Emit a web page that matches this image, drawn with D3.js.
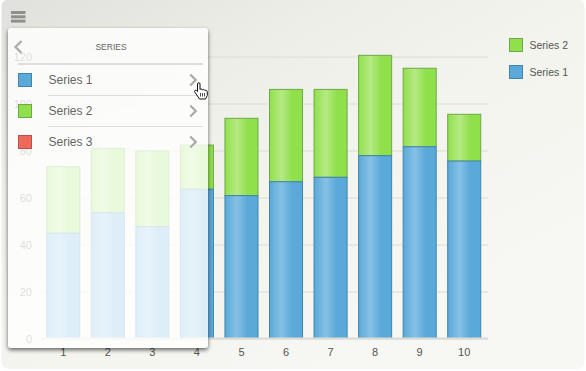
<!DOCTYPE html>
<html>
<head>
<meta charset="utf-8">
<script src="https://cdn.jsdelivr.net/npm/d3@7"></script>
<style>
html, body { margin: 0; padding: 0; background: #fff; }
svg { display: block; font-family: "Liberation Sans", sans-serif; }
</style>
</head>
<body>
<div id="chart"></div>
<script>
// DATA
const categories = ["1", "2", "3", "4", "5", "6", "7", "8", "9", "10"]
const series1 = [44.8, 53.5, 47.6, 63.5, 60.8, 66.7, 68.6, 77.8, 81.6, 75.5]
const series2 = [28.3, 27.4, 32.2, 18.8, 32.9, 39.3, 37.4, 42.7, 33.4, 19.9]
const yTicks = [0, 20, 40, 60, 80, 100, 120]
const legendNames = ["Series 2", "Series 1"]
const menuNames = ["Series 1", "Series 2", "Series 3"]
const menuTitle = "SERIES"

const width = 586
const height = 371
const margin = ({ top: 56.5, right: 99.5, bottom: 32.5, left: 41 })

const colors = {
    "Series 1": { fill: "#5aa9d9", light: "#86c1e6", stroke: "#3f84ad" },
    "Series 2": { fill: "#90e04c", light: "#b6ea84", stroke: "#6fa84b" },
    "Series 3": { fill: "#f0675c", light: "#f0675c", stroke: "#b5524a" },
}

const x = d3.scaleBand()
    .domain(categories)
    .range([margin.left, width - margin.right])
    .paddingInner(0.236)
    .paddingOuter(0.118)

const y = d3.scaleLinear()
    .domain([0, 120])
    .range([height - margin.bottom, margin.top])

const svg = d3.select("#chart")
    .append("svg")
    .attr("width", width)
    .attr("height", height)

const defs = svg.append("defs")

const bgGrad = defs.append("linearGradient")
    .attr("id", "bg")
    .attr("x1", 0).attr("y1", 0).attr("x2", 0.75).attr("y2", 0.85)
bgGrad.append("stop").attr("offset", "0%").attr("stop-color", "#e0e0dc")
bgGrad.append("stop").attr("offset", "35%").attr("stop-color", "#eeeee9")
bgGrad.append("stop").attr("offset", "62%").attr("stop-color", "#f3f4ee")
bgGrad.append("stop").attr("offset", "100%").attr("stop-color", "#f7f7f3")

for (const name of ["Series 1", "Series 2"]) {
    const grad = defs.append("linearGradient")
        .attr("id", name === "Series 1" ? "barBlue" : "barGreen")
        .attr("x1", 0).attr("x2", 1).attr("y1", 0).attr("y2", 0)
    grad.append("stop").attr("offset", "0%").attr("stop-color", colors[name].fill)
    grad.append("stop").attr("offset", "36%").attr("stop-color", colors[name].light)
    grad.append("stop").attr("offset", "68%").attr("stop-color", colors[name].fill)
    grad.append("stop").attr("offset", "100%").attr("stop-color", colors[name].fill)
}

// only the shadow outside the panel, the panel itself is see-through
const shadow = defs.append("filter")
    .attr("id", "panelShadow")
    .attr("x", "-10%").attr("y", "-10%").attr("width", "120%").attr("height", "120%")
shadow.append("feGaussianBlur")
    .attr("in", "SourceAlpha").attr("stdDeviation", 2).attr("result", "blur")
shadow.append("feOffset")
    .attr("in", "blur").attr("dy", 1.5).attr("result", "off")
shadow.append("feComposite")
    .attr("in", "off").attr("in2", "SourceAlpha").attr("operator", "out").attr("result", "outer")
shadow.append("feComponentTransfer")
    .attr("in", "outer")
    .append("feFuncA").attr("type", "linear").attr("slope", 0.6)

// background
svg.append("rect")
    .attr("x", 1.5).attr("y", -1)
    .attr("width", width - 3).attr("height", height - 1)
    .attr("rx", 8)
    .attr("fill", "url(#bg)")

// axes
svg.append("g")
    .attr("transform", `translate(${margin.left},0)`)
    .call(d3.axisLeft(y)
        .tickValues(yTicks)
        .tickSize(-(width - margin.left - margin.right + 1.5))
        .tickPadding(9))
    .call(g => g.select(".domain").remove())
    .call(g => g.selectAll(".tick line").attr("stroke", "#dcdcd6"))
    .call(g => g.selectAll("text")
        .attr("fill", "#555")
        .attr("font-size", 11)
        .attr("font-family", "inherit"))

const stack = categories.map((c, i) => ({ c, s1: series1[i], s2: series2[i] }))

svg.append("g")
    .selectAll("rect")
    .data(stack)
    .join("rect")
    .attr("x", d => x(d.c) + 0.5)
    .attr("width", x.bandwidth() - 1)
    .attr("y", d => y(d.s1 + d.s2))
    .attr("height", d => y(d.s1) - y(d.s1 + d.s2))
    .attr("fill", "url(#barGreen)")
    .attr("stroke", colors["Series 2"].stroke)

svg.append("g")
    .selectAll("rect")
    .data(stack)
    .join("rect")
    .attr("x", d => x(d.c) + 0.5)
    .attr("width", x.bandwidth() - 1)
    .attr("y", d => y(d.s1))
    .attr("height", d => y(0) - y(d.s1))
    .attr("fill", "url(#barBlue)")
    .attr("stroke", colors["Series 1"].stroke)

svg.append("g")
    .attr("transform", `translate(0,${height - margin.bottom})`)
    .call(d3.axisBottom(x).tickSize(0).tickPadding(10))
    .call(g => g.select(".domain")
        .attr("stroke", "#dcdcd6")
        .attr("stroke-width", 2)
        .attr("d", `M${margin.left},0H${width - margin.right + 1.5}`))
    .call(g => g.selectAll("text")
        .attr("fill", "#555")
        .attr("font-size", 11)
        .attr("font-family", "inherit"))

// legend
const legendRow = d3.scalePoint().domain(legendNames).range([45, 72])
const legend = svg.append("g")
    .selectAll("g")
    .data(legendNames)
    .join("g")
    .attr("transform", d => `translate(509.5,${legendRow(d)})`)
legend.append("rect")
    .attr("y", -6.5).attr("width", 13).attr("height", 13)
    .attr("fill", d => colors[d].fill)
    .attr("stroke", d => colors[d].stroke)
legend.append("text")
    .attr("x", 20).attr("dy", "0.35em")
    .attr("font-size", 10.5)
    .attr("fill", "#555")
    .text(d => d)

// menu icon
svg.append("g")
    .selectAll("rect")
    .data([0, 1, 2])
    .join("rect")
    .attr("x", 11).attr("y", d => 11 + d * 4.3)
    .attr("width", 14.5).attr("height", 3)
    .attr("fill", "#8f8f8b")

// popup panel over the chart
svg.append("rect")
    .attr("x", 8).attr("y", 28)
    .attr("width", 200).attr("height", 320)
    .attr("rx", 3)
    .attr("fill", "#fff")
    .attr("filter", "url(#panelShadow)")

svg.append("rect")
    .attr("x", 8).attr("y", 28)
    .attr("width", 200).attr("height", 320)
    .attr("rx", 3)
    .attr("fill", "#fff")
    .attr("fill-opacity", 0.8)

const chevron = (g, cx, cy, dir, size) => g.append("path")
    .attr("d", `M${cx - dir * size / 2},${cy - size}L${cx + dir * size / 2},${cy}L${cx - dir * size / 2},${cy + size}`)
    .attr("fill", "none")
    .attr("stroke", "#aaa")
    .attr("stroke-width", 2.2)

const panel = svg.append("g")
chevron(panel, 18.5, 47, -1, 6)
panel.append("text")
    .attr("x", 111).attr("y", 47.5)
    .attr("dy", "0.35em")
    .attr("text-anchor", "middle")
    .attr("font-size", 8.5)
    .attr("fill", "#666")
    .text(menuTitle)
panel.append("line")
    .attr("x1", 18).attr("x2", 203).attr("y1", 64).attr("y2", 64)
    .attr("stroke", "#dedede").attr("stroke-width", 2)

const menuRow = d3.scalePoint().domain(menuNames).range([80, 142])
menuNames.forEach((name, i) => {
    const row = panel.append("g").attr("transform", `translate(0,${menuRow(name)})`)
    row.append("rect")
        .attr("x", 18.5).attr("y", -6.5).attr("width", 13).attr("height", 13)
        .attr("fill", colors[name].fill)
        .attr("stroke", colors[name].stroke)
    row.append("text")
        .attr("x", 48.5).attr("dy", "0.35em")
        .attr("font-size", 12)
        .attr("fill", "#666")
        .text(name)
    chevron(row, 193, 0, 1, 5.5)
    if (i < menuNames.length - 1) {
        row.append("line")
            .attr("x1", 48).attr("x2", 203).attr("y1", 15.5).attr("y2", 15.5)
            .attr("stroke", "#ddd")
    }
})

// hand cursor
const hand = svg.append("g").attr("transform", "translate(194,82)")
hand.append("path")
    .attr("d", "M3.5,2C3.5,0.3 6,0.3 6,2V7.5C6.5,6.8 8.2,6.8 8.5,8C9,7.3 10.6,7.4 11,8.6C11.5,8 13.3,8.3 13.3,9.8V13.5L11.5,17H5.5L0.6,9.8C0,8.6 1.6,7.6 2.6,8.6L3.5,9.6Z")
    .attr("fill", "#fff")
    .attr("stroke", "#111")
    .attr("stroke-width", 1)
hand.append("path")
    .attr("d", "M6.5,11V14.5M8.5,11V14.5M10.5,11V14.5")
    .attr("stroke", "#222")
    .attr("stroke-width", 0.8)
</script>
</body>
</html>
